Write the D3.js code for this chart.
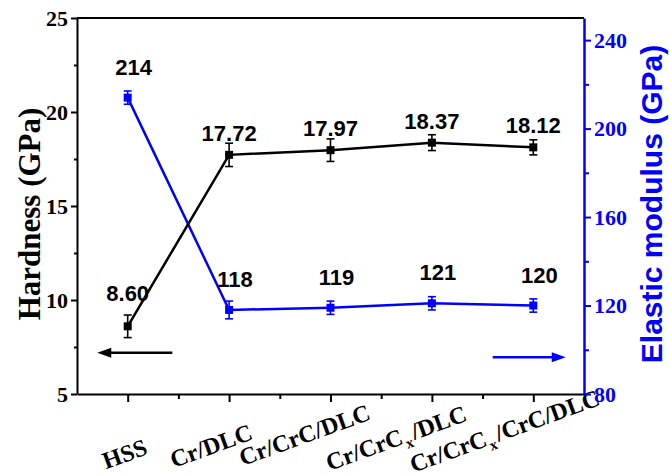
<!DOCTYPE html>
<html>
<head>
<meta charset="utf-8">
<script src="https://cdn.jsdelivr.net/npm/d3@7"></script>
<style>
  html, body { margin: 0; padding: 0; background: #fff; }
  svg { display: block; }
</style>
</head>
<body>
<svg id="chart" width="670" height="474"></svg>
<script>
// Coating samples ("_x" marks a subscript x)
const categories = ["HSS", "Cr/DLC", "Cr/CrC/DLC", "Cr/CrC_x/DLC", "Cr/CrC_x/CrC/DLC"];
// Hardness (GPa) with error
const hardness    = [8.60, 17.72, 17.97, 18.37, 18.12];
const hardnessErr = [0.60, 0.62, 0.60, 0.42, 0.40];
// Elastic modulus (GPa) with error
const modulus     = [214, 118, 119, 121, 120];
const modulusErr  = [3, 4, 3, 3, 3];
// Axis ticks
const hardnessTicks = [5, 10, 15, 20, 25];
const hardnessMinor = [7.5, 12.5, 17.5, 22.5];
const modulusTicks  = [80, 120, 160, 200, 240];
const modulusMinor  = [100, 140, 180, 220];

const BLUE = "#0000ff";
const SERIF = "'Liberation Serif','Times New Roman',serif";
const SANS = "'Liberation Sans',Arial,sans-serif";

const svg = d3.select("#chart");
const L = 77, R = 584, T = 18, B = 394;

const x = d3.scaleLinear().domain([0.5, 5.5]).range([L, R]);
const yH = d3.scaleLinear().domain([5, 25]).range([B, T]);
const yM = d3.scaleLinear().domain([80, 250]).range([B, T]);

// value-label vertical offsets (px above the point)
const hardLabelDy = [-25, -14, -14, -14, -14];
const modLabelDy = -23, modLabelDx = 6;
// x tick labels: visual centre relative to the tick (dx) and absolute row (y)
const xLabelDx = [-3, -18, -26, -35, -28];
const xLabelCy = [454, 446, 435, 440, 433];

// top frame line
svg.append("line").attr("x1", L).attr("x2", R).attr("y1", T).attr("y2", T)
  .attr("stroke", "#000").attr("stroke-width", 2);

// bottom axis
const gx = svg.append("g").attr("transform", `translate(0,${B})`);
gx.call(d3.axisBottom(x).tickValues([1, 2, 3, 4, 5]).tickSize(8).tickSizeOuter(0).tickFormat(""));
gx.append("g").call(d3.axisBottom(x).tickValues([1.5, 2.5, 3.5, 4.5]).tickSize(5).tickFormat(""))
  .select(".domain").remove();
gx.selectAll("path.domain").attr("stroke", "#000").attr("stroke-width", 2);
gx.selectAll(".tick line").attr("stroke", "#000").attr("stroke-width", 2);

// category labels, rotated about their own centre
categories.forEach((c, i) => {
  const t = svg.append("text")
    .attr("text-anchor", "middle")
    .attr("font-family", SERIF).attr("font-weight", "bold").attr("font-size", 24)
    .attr("fill", "#000");
  const parts = c.split("_x");
  parts.forEach((p, k) => {
    const s = t.append("tspan").text(p);
    if (k > 0) s.attr("dy", -6).attr("dx", 2);
    if (k < parts.length - 1) {
      t.append("tspan").text("x").attr("font-size", 15).attr("dx", 1).attr("dy", 6);
    }
  });
  const bb = t.node().getBBox();
  const bx = bb.x + bb.width / 2, by = bb.y + bb.height / 2;
  t.attr("transform",
    `translate(${x(i + 1) + xLabelDx[i]},${xLabelCy[i]}) rotate(-20) translate(${-bx},${-by})`);
});

// left axis (hardness)
const gl = svg.append("g").attr("transform", `translate(${L},0)`);
gl.call(d3.axisLeft(yH).tickValues(hardnessTicks).tickSize(6).tickSizeOuter(0).tickPadding(3));
gl.append("g").call(d3.axisLeft(yH).tickValues(hardnessMinor).tickSize(3).tickFormat(""))
  .select(".domain").remove();
gl.selectAll("path.domain").attr("stroke", "#000").attr("stroke-width", 2);
gl.selectAll(".tick line").attr("stroke", "#000").attr("stroke-width", 2);
gl.selectAll(".tick text").attr("font-family", SERIF).attr("font-weight", "bold")
  .attr("font-size", 22).attr("fill", "#000");

// right axis (modulus)
const gr = svg.append("g").attr("transform", `translate(${R},0)`);
gr.call(d3.axisRight(yM).tickValues(modulusTicks).tickSize(7).tickSizeOuter(0).tickPadding(3));
gr.append("g").call(d3.axisRight(yM).tickValues(modulusMinor).tickSize(5).tickFormat(""))
  .select(".domain").remove();
gr.selectAll("path.domain").attr("stroke", BLUE).attr("stroke-width", 2.5);
gr.selectAll(".tick line").attr("stroke", BLUE).attr("stroke-width", 2);
gr.selectAll(".tick text").attr("font-family", SERIF).attr("font-weight", "bold")
  .attr("font-size", 22).attr("fill", BLUE);

// axis titles
svg.append("text")
  .attr("transform", `translate(40,214) rotate(-90)`)
  .attr("text-anchor", "middle")
  .attr("font-family", SERIF).attr("font-weight", "bold").attr("font-size", 31)
  .attr("fill", "#000").text("Hardness (GPa)");
svg.append("text")
  .attr("transform", `translate(662,204) rotate(-90)`)
  .attr("text-anchor", "middle")
  .attr("font-family", SANS).attr("font-weight", "bold").attr("font-size", 30)
  .attr("fill", BLUE).text("Elastic modulus (GPa)");

// series drawing helper
function drawSeries(values, errs, y, color) {
  const g = svg.append("g");
  const line = d3.line().x((d, i) => x(i + 1)).y(d => y(d));
  g.append("path").datum(values).attr("d", line)
    .attr("fill", "none").attr("stroke", color).attr("stroke-width", 2.5);
  values.forEach((v, i) => {
    const cx = x(i + 1), lo = y(v - errs[i]), hi = y(v + errs[i]);
    g.append("line").attr("x1", cx).attr("x2", cx).attr("y1", lo).attr("y2", hi)
      .attr("stroke", color).attr("stroke-width", 1.6);
    [lo, hi].forEach(yy => g.append("line")
      .attr("x1", cx - 4).attr("x2", cx + 4).attr("y1", yy).attr("y2", yy)
      .attr("stroke", color).attr("stroke-width", 1.6));
    g.append("rect").attr("x", cx - 4).attr("y", y(v) - 4).attr("width", 8).attr("height", 8)
      .attr("fill", color);
  });
  return g;
}

drawSeries(modulus, modulusErr, yM, BLUE);
drawSeries(hardness, hardnessErr, yH, "#000");

// value labels
hardness.forEach((v, i) => {
  svg.append("text").attr("x", x(i + 1)).attr("y", yH(v) + hardLabelDy[i])
    .attr("text-anchor", "middle")
    .attr("font-family", SANS).attr("font-weight", "bold").attr("font-size", 22)
    .attr("fill", "#000").text(v.toFixed(2));
});
modulus.forEach((v, i) => {
  svg.append("text").attr("x", x(i + 1) + modLabelDx).attr("y", yM(v) + modLabelDy)
    .attr("text-anchor", "middle")
    .attr("font-family", SANS).attr("font-weight", "bold").attr("font-size", 22)
    .attr("fill", "#000").text(v);
});

// axis-direction arrows
function arrow(x1, x2, yy, color) {
  const dir = Math.sign(x2 - x1);
  svg.append("line").attr("x1", x1).attr("x2", x2 - dir * 10).attr("y1", yy).attr("y2", yy)
    .attr("stroke", color).attr("stroke-width", 2.5);
  svg.append("path")
    .attr("d", `M${x2},${yy} L${x2 - dir * 14},${yy - 5} L${x2 - dir * 14},${yy + 5} Z`)
    .attr("fill", color);
}
arrow(x(1.44), x(0.7), yH(7.2), "#000");
arrow(x(4.6), x(5.32), yM(96.6), BLUE);
</script>
</body>
</html>
